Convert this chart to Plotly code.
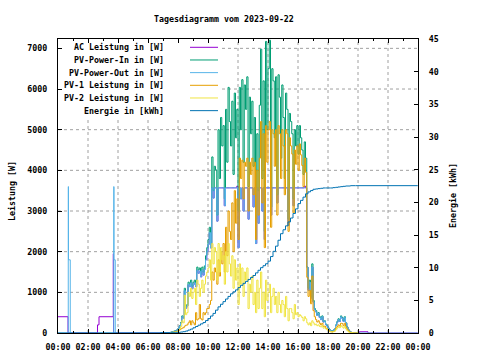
import pandas as pd
import plotly.graph_objects as go

DAY = "2023-09-22"
TITLE = "Tagesdiagramm vom 2023-09-22"
NAMES = ["AC Leistung in [W]", "PV-Power-In in [W]", "PV-Power-Out in [W]",
         "PV-1 Leistung in [W]", "PV-2 Leistung in [W]", "Energie in [kWh]"]
COLORS = ["#9400D3", "#009E73", "#56B4E9", "#E69F00", "#F0E442", "#0072B2"]

# daytime samples every 5 minutes, 07:30 .. 20:00
day_times = pd.date_range(f"{DAY} 07:30", f"{DAY} 20:00", freq="5min")

pv_in = [20, 30, 40, 50, 60, 80,
         120, 180, 260, 420, 380, 1100,
         640, 700, 1250, 1200, 1300, 1150,
         1250, 1300, 1200, 1620, 1550, 1600,
         1450, 1620, 1500, 1650, 1900, 2100,
         2300, 2600, 2200, 4330, 3500, 4100,
         4010, 2900, 5000, 3800, 5300, 4600,
         5100, 3300, 5500, 4200, 6040, 5200,
         4600, 5700, 3900, 5900, 4800, 5500,
         3000, 6040, 5000, 6230, 4200, 6100,
         5500, 6300, 3600, 5800, 4900, 5700,
         4100, 5300, 2800, 4900, 3500, 5600,
         6980, 3800, 6200, 2500, 7170, 5000,
         6500, 7200, 3100, 6500, 6200, 4800,
         6300, 3400, 6350, 5800, 4300, 6100,
         5300, 3800, 5900, 5500, 2800, 5400,
         5200, 4900, 3300, 5000, 4600, 5100,
         4400, 5100, 4800, 4500, 3900, 4700,
         4300, 1620, 1100, 1300, 900, 1700,
         800, 600, 550, 450, 500, 400,
         350, 420, 280, 300, 220, 180,
         120, 80, 60, 50, 70, 100,
         200, 280, 350, 300, 420, 380,
         300, 400, 250, 150, 80, 40,
         20, 10, 0, 0, 0, 0,
         0]

pv2 = [10, 15, 20, 25, 30, 40,
       60, 100, 160, 300, 250, 930,
       450, 500, 1000, 900, 1100, 850,
       1000, 1100, 700, 1300, 1200, 900,
       1100, 1300, 1000, 1200, 1400, 1500,
       1600, 1800, 1300, 2200, 1700, 2100,
       2000, 1300, 2200, 1500, 2100, 1800,
       1900, 1200, 2000, 1500, 2200, 1700,
       1400, 1900, 1100, 1800, 1300, 1600,
       700, 1700, 1200, 1600, 900, 1500,
       1300, 1600, 600, 1200, 1000, 1400,
       700, 1000, 500, 1300, 600, 1100,
       1500, 600, 1000, 400, 1300, 800,
       1000, 1200, 500, 900, 1100, 700,
       900, 500, 1000, 700, 500, 800,
       700, 400, 900, 600, 300, 600,
       600, 500, 350, 700, 450, 500,
       400, 450, 420, 380, 300, 400,
       350, 250, 200, 250, 180, 300,
       250, 200, 220, 180, 200, 160,
       150, 180, 120, 130, 100, 80,
       50, 40, 30, 25, 30, 50,
       80, 120, 150, 130, 180, 150,
       120, 160, 100, 60, 30, 15,
       10, 5, 0, 0, 0, 0,
       0]

pv1 = [10, 15, 20, 25, 30, 40,
       60, 80, 100, 120, 130, 170,
       190, 200, 250, 300, 200, 300,
       250, 200, 500, 320, 350, 700,
       350, 320, 500, 450, 500, 600,
       600, 700, 800, 1500, 1300, 1600,
       1500, 1200, 1800, 1400, 2000, 1700,
       2200, 1500, 2600, 1900, 3000, 2500,
       2300, 3200, 2000, 3500, 2700, 3300,
       2300, 4300, 3800, 4250, 3300, 4200,
       4100, 4300, 3000, 4200, 3900, 4300,
       3400, 4200, 2300, 4000, 2900, 4300,
       5200, 3200, 4900, 2100, 5100, 4200,
       5000, 5200, 2600, 5000, 4900, 4100,
       5000, 2900, 5100, 4900, 3800, 5000,
       4600, 3400, 5000, 4900, 2500, 4800,
       4600, 4400, 2950, 4500, 4150, 4600,
       4000, 4650, 4380, 4120, 3600, 4300,
       3950, 1370, 900, 1050, 720, 1400,
       550, 400, 330, 270, 300, 240,
       200, 240, 160, 170, 120, 100,
       70, 40, 30, 25, 40, 50,
       120, 160, 200, 170, 240, 230,
       180, 240, 150, 90, 50, 25,
       10, 5, 0, 0, 0, 0,
       0]

pv_out = [15, 25, 35, 45, 55, 75,
          110, 170, 245, 400, 360, 1040,
          610, 665, 1190, 1140, 1235, 1090,
          1190, 1235, 1140, 1540, 1470, 1520,
          1380, 1540, 1425, 1570, 1800, 2000,
          2180, 2470, 2090, 3570, 3320, 3570,
          3570, 2750, 3570, 3570, 3570, 3570,
          3570, 3130, 3570, 3570, 3570, 3570,
          3570, 3570, 3570, 3570, 3570, 3570,
          2100, 3570, 3300, 3570, 3000, 3570,
          3570, 3570, 2800, 3570, 3570, 3570,
          3100, 3570, 2200, 3570, 2700, 3570,
          3570, 3000, 3570, 2300, 3570, 3570,
          3570, 3570, 2900, 3570, 3570, 3570,
          3570, 3200, 3570, 3570, 3570, 3570,
          3570, 3570, 3570, 3570, 2650, 3570,
          3570, 3570, 3130, 3570, 3570, 3570,
          3570, 3570, 3570, 3570, 3570, 3570,
          3570, 1620, 1050, 1250, 860, 1620,
          760, 570, 520, 430, 480, 380,
          330, 400, 270, 285, 210, 170,
          115, 75, 55, 50, 65, 95,
          190, 265, 330, 285, 400, 360,
          285, 380, 240, 140, 75, 40,
          20, 10, 0, 0, 0, 0,
          0]

ac_day = [15, 25, 35, 45, 55, 75,
          110, 170, 245, 400, 360, 1040,
          610, 665, 1190, 1140, 1235, 1090,
          1190, 1235, 1140, 1540, 1470, 1520,
          1380, 1540, 1425, 1570, 1800, 2000,
          2180, 2470, 2090, 3570, 3320, 3570,
          3570, 2750, 3570, 3570, 3570, 3570,
          3570, 3130, 3570, 3570, 3570, 3570,
          3570, 3570, 3570, 3570, 3570, 3610,
          2100, 3570, 3300, 3570, 3000, 3570,
          3570, 3570, 2800, 3570, 3570, 3570,
          3100, 3570, 2200, 3570, 2700, 3570,
          3570, 3000, 3570, 2300, 3570, 3570,
          3570, 3570, 2900, 3570, 3570, 3570,
          3570, 3200, 3570, 3570, 3570, 3570,
          3570, 3570, 3570, 3570, 2650, 3570,
          3570, 3570, 3130, 3570, 3570, 3570,
          3570, 3570, 3570, 3570, 3570, 3610,
          3570, 1620, 1050, 1250, 860, 1620,
          760, 570, 520, 430, 480, 380,
          330, 400, 270, 285, 210, 170,
          115, 75, 55, 50, 65, 95,
          190, 265, 330, 285, 400, 360,
          285, 380, 240, 140, 75, 40,
          20, 10, 0, 0, 0, 0,
          0]

# night / edge samples
ac_night_t = ["00:00", "00:40", "02:38", "02:44", "03:41", "03:42", "07:25"]
ac_night_v = [400, 0, 200, 400, 1950, 0, 0]
ac_eve_t = ["20:05", "20:40", "23:59"]
ac_eve_v = [30, 0, 0]

out_night_t = ["00:00", "00:41", "00:42", "00:49", "03:43", "03:44", "03:49", "07:25"]
out_night_v = [0, 3600, 1800, 0, 3600, 1800, 0, 0]
out_eve_t = ["23:59"]
out_eve_v = [0]

# energy every 10 minutes
energy_t = ["00:00", "06:50", "07:30", "07:40", "07:50", "08:00", "08:10", "08:20", "08:30", "08:40",
            "08:50", "09:00", "09:10", "09:20", "09:30", "09:40", "09:50", "10:00", "10:10",
            "10:20", "10:30", "10:40", "10:50", "11:00", "11:10", "11:20", "11:30", "11:40",
            "11:50", "12:00", "12:10", "12:20", "12:30", "12:40", "12:50", "13:00", "13:10",
            "13:20", "13:30", "13:40", "13:50", "14:00", "14:10", "14:20", "14:30", "14:40",
            "14:50", "15:00", "15:10", "15:20", "15:30", "15:40", "15:50", "16:00", "16:10",
            "16:20", "16:30", "16:40", "16:50", "17:00", "17:10", "17:20", "17:30", "17:40",
            "17:50", "18:00", "18:10", "18:20", "18:30", "18:40", "18:50", "19:00", "19:10",
            "19:20", "19:30", "19:40", "19:50", "20:00", "23:59"]
energy_v = [0, 0.05, 0.05, 0.05, 0.1, 0.1, 0.15, 0.2, 0.3, 0.45,
            0.6, 0.8, 1.0, 1.2, 1.4, 1.6, 1.9, 2.2, 2.6,
            3.0, 3.5, 4.0, 4.4, 4.8, 5.2, 5.6, 6.0, 6.3,
            6.6, 6.95, 7.3, 7.6, 7.9, 8.2, 8.5, 8.8, 9.2,
            9.6, 10.0, 10.3, 10.6, 11.0, 11.7, 12.5, 13.3, 14.2,
            15.2, 15.8, 16.4, 17.0, 17.6, 18.3, 19.0, 19.8, 20.3,
            20.8, 21.3, 21.6, 21.8, 22.0, 22.05, 22.1, 22.15, 22.2,
            22.2, 22.2, 22.2, 22.25, 22.3, 22.35, 22.4, 22.45, 22.5,
            22.5, 22.55, 22.55, 22.55, 22.55, 22.55]

TICK_HOURS = ["00:00", "02:00", "04:00", "06:00", "08:00", "10:00", "12:00",
              "14:00", "16:00", "18:00", "20:00", "22:00", "00:00"]
Y_TICKS = [0, 1000, 2000, 3000, 4000, 5000, 6000, 7000]
Y2_TICKS = [0, 5, 10, 15, 20, 25, 30, 35, 40, 45]


def ts(hm_list):
    return [pd.Timestamp(f"{DAY} {hm}") for hm in hm_list]


day_list = list(day_times)
ac_x = ts(ac_night_t) + day_list + ts(ac_eve_t)
ac_y = ac_night_v + ac_day + ac_eve_v
out_x = ts(out_night_t) + day_list + ts(out_eve_t)
out_y = out_night_v + pv_out + out_eve_v

FONT = "DejaVu Sans Mono"
FS = 8.3
Y_MAX = 7230
GRID = "#a0a0a0"

fig = go.Figure()
series = [
    (ac_x, ac_y, "y"),
    (day_list, pv_in, "y"),
    (out_x, out_y, "y"),
    (day_list, pv1, "y"),
    (day_list, pv2, "y"),
    (ts(energy_t), energy_v, "y2"),
]
for (x, y, ax), name, col in zip(series, NAMES, COLORS):
    fig.add_trace(go.Scatter(x=x, y=y, name=name, mode="lines", yaxis=ax,
                             line=dict(color=col, width=1, shape="hv"),
                             showlegend=False, hoverinfo="skip"))

# plot box in pixels
L, R, T, B = 58, 418, 39, 333
W, H = R - L, B - T


def px(xp):
    return (xp - L) / W


def py(yp):
    return (B - yp) / H


x_start = pd.Timestamp(f"{DAY} 00:00")
x_end = x_start + pd.Timedelta(hours=24)
tickvals = [x_start + pd.Timedelta(hours=2 * i) for i in range(13)]

fig.update_layout(
    width=480, height=360,
    margin=dict(l=L, r=480 - R, t=T, b=360 - B, autoexpand=False),
    paper_bgcolor="white", plot_bgcolor="white",
    font=dict(family=FONT, size=FS, color="black", weight="bold"),
    xaxis=dict(type="date", range=[x_start, x_end], tickvals=tickvals, ticktext=TICK_HOURS,
               ticks="inside", ticklen=4, tickcolor="black", showline=True, linecolor="black",
               linewidth=1, mirror="ticks", showgrid=False, automargin=False,
               minor=dict(ticks="inside", ticklen=2, tickcolor="black", dtick=3600000,
                          tick0=x_start, showgrid=False),
               ticklabelstandoff=6, zeroline=False),
    yaxis=dict(range=[0, Y_MAX], tickvals=Y_TICKS,
               ticks="inside", ticklen=4, tickcolor="black", showline=True, linecolor="black",
               linewidth=1, showgrid=False, zeroline=False, ticklabelstandoff=8,
               automargin=False),
    yaxis2=dict(range=[0, 45], tickvals=Y2_TICKS, overlaying="y",
                side="right", ticks="inside", ticklen=4, tickcolor="black", showline=True,
                linecolor="black", linewidth=1, showgrid=False, zeroline=False,
                ticklabelstandoff=8, automargin=False),
    showlegend=False,
)

# grid drawn behind the data, interrupted by the opaque key box (top-left)
key_x1 = x_start + pd.Timedelta(hours=(222 - L) / 15)
key_y0 = (B - 117) / H * Y_MAX
shapes = []
gl = dict(color=GRID, width=1, dash="3px,3px")
for tv in tickvals[1:-1]:
    top = key_y0 if tv < key_x1 else Y_MAX
    shapes.append(dict(type="line", xref="x", yref="y", x0=tv, x1=tv, y0=0, y1=top,
                       line=gl, layer="below"))
for yv in Y_TICKS[1:]:
    left = key_x1 if yv > key_y0 else x_start
    shapes.append(dict(type="line", xref="x", yref="y", x0=left, x1=x_end, y0=yv, y1=yv,
                       line=gl, layer="below"))

annotations = [
    dict(text=TITLE, xref="paper", yref="paper", x=px(223.5), y=py(18.5), showarrow=False,
         xanchor="center", yanchor="middle"),
    dict(text="Leistung [W]", xref="paper", yref="paper", x=px(12), y=py(191), showarrow=False,
         textangle=-90, xanchor="center", yanchor="middle"),
    dict(text="Energie [kWh]", xref="paper", yref="paper", x=px(452.5), y=py(195.5),
         showarrow=False, textangle=-90, xanchor="center", yanchor="middle"),
]
for i, (name, col) in enumerate(zip(NAMES, COLORS)):
    yrow = 47.3 + 12.67 * i
    annotations.append(dict(text=name, xref="paper", yref="paper", x=px(166), y=py(yrow),
                            showarrow=False, xanchor="right", yanchor="middle"))
    shapes.append(dict(type="line", xref="paper", yref="paper", x0=px(190), x1=px(218),
                       y0=py(yrow), y1=py(yrow), line=dict(color=col, width=1), layer="above"))

fig.update_layout(shapes=shapes, annotations=annotations)
fig.write_html("out.html", config={"displayModeBar": False},
               post_script="document.body.style.margin='0';")
